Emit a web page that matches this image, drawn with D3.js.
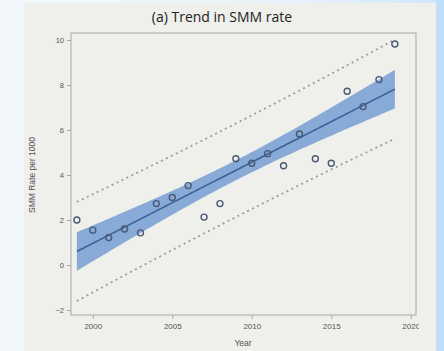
<!DOCTYPE html>
<html>
<head>
<meta charset="utf-8">
<script src="https://cdn.jsdelivr.net/npm/d3@7"></script>
<style>
  html, body { margin: 0; padding: 0; }
  body { width: 444px; height: 351px; overflow: hidden; }
  svg { display: block; }
</style>
</head>
<body>
<svg id="chart" width="444" height="351"></svg>
<script>
// Annual SMM rate per 1000, 1999-2019
const years = [1999, 2000, 2001, 2002, 2003, 2004, 2005, 2006, 2007, 2008, 2009,
               2010, 2011, 2012, 2013, 2014, 2015, 2016, 2017, 2018, 2019];
const rates = [2.0, 1.55, 1.22, 1.6, 1.43, 2.73, 3.0, 3.53, 2.13, 2.73, 4.72,
               4.52, 4.95, 4.41, 5.82, 4.72, 4.52, 7.72, 7.04, 8.24, 9.82];
const xTicks = [2000, 2005, 2010, 2015, 2020];
const yTicks = [-2, 0, 2, 4, 6, 8, 10];
const titleText = "(a) Trend in SMM rate";
const xTitle = "Year";
const yTitle = "SMM Rate per 1000";
const tCrit = 2.093; // t(0.975, n-2 = 19)

const svg = d3.select("#chart");

// slide backdrop
const defs = svg.append("defs");
const grad = defs.append("linearGradient").attr("id", "bg").attr("x1", 0).attr("x2", 1);
grad.append("stop").attr("offset", "0%").attr("stop-color", "#f4f8fc");
grad.append("stop").attr("offset", "70%").attr("stop-color", "#e6f1fb");
grad.append("stop").attr("offset", "100%").attr("stop-color", "#cfe6fa");
svg.append("rect").attr("width", 444).attr("height", 351).attr("fill", "url(#bg)");
svg.append("rect").attr("x", 436).attr("y", 0).attr("width", 8).attr("height", 351).attr("fill", "#bfdff9");

// chart panel
svg.append("rect").attr("x", 24).attr("y", 3).attr("width", 412).attr("height", 348).attr("fill", "#efefec");

const x = d3.scaleLinear().domain([1998.63, 2020.33]).range([71, 416]);
const y = d3.scaleLinear().domain([-2.22, 10.31]).range([315, 33]);

// least-squares fit with confidence and prediction limits
const n = years.length;
const mx = d3.mean(years), my = d3.mean(rates);
const sxx = d3.sum(years, v => (v - mx) ** 2);
const sxy = d3.sum(years, (v, i) => (v - mx) * (rates[i] - my));
const slope = sxy / sxx;
const icpt = my - slope * mx;
const fit = v => icpt + slope * v;
const sse = d3.sum(years, (v, i) => (rates[i] - fit(v)) ** 2);
const s = Math.sqrt(sse / (n - 2));
const grid = d3.range(0, 101).map(k => years[0] + (years[n - 1] - years[0]) * k / 100);
const bands = grid.map(v => {
  const h = 1 / n + (v - mx) ** 2 / sxx;
  return {
    v, f: fit(v),
    clo: fit(v) - tCrit * s * Math.sqrt(h), chi: fit(v) + tCrit * s * Math.sqrt(h),
    plo: fit(v) - tCrit * s * Math.sqrt(1 + h), phi: fit(v) + tCrit * s * Math.sqrt(1 + h)
  };
});

// confidence band
svg.append("path").datum(bands)
  .attr("d", d3.area().x(d => x(d.v)).y0(d => y(d.clo)).y1(d => y(d.chi)))
  .attr("fill", "#7ba2d4").attr("opacity", 0.9);

// prediction limits
["plo", "phi"].forEach(k => {
  svg.append("path").datum(bands)
    .attr("d", d3.line().x(d => x(d.v)).y(d => y(d[k])))
    .attr("fill", "none").attr("stroke", "#9c9c9c").attr("stroke-width", 1.8)
    .attr("stroke-dasharray", "2,3.5");
});

// fitted line
svg.append("path").datum(bands)
  .attr("d", d3.line().x(d => x(d.v)).y(d => y(d.f)))
  .attr("fill", "none").attr("stroke", "#3b6396").attr("stroke-width", 1.6);

// observations
svg.append("g").selectAll("circle").data(years).join("circle")
  .attr("cx", d => x(d)).attr("cy", (d, i) => y(rates[i])).attr("r", 3)
  .attr("fill", "none").attr("stroke", "#4b5875").attr("stroke-width", 1.4);

// frame
svg.append("rect").attr("x", 71).attr("y", 33).attr("width", 345).attr("height", 282)
  .attr("fill", "none").attr("stroke", "#a8a8a8").attr("stroke-width", 1);

const tickFont = "Liberation Sans, Arial, sans-serif";

// y axis
const yAxis = svg.append("g").attr("transform", "translate(71,0)")
  .call(d3.axisLeft(y).tickValues(yTicks).tickSize(4).tickPadding(3).tickFormat(d3.format("d")));
yAxis.select(".domain").remove();
yAxis.selectAll("line").attr("stroke", "#a8a8a8");
yAxis.selectAll("text").attr("fill", "#555").style("font-size", "7.5px").style("font-family", tickFont);

// x axis, tick labels cut at the panel's screenshot edge
defs.append("clipPath").attr("id", "xclip").append("rect")
  .attr("x", 0).attr("y", -10).attr("width", 419).attr("height", 40);
const xAxis = svg.append("g").attr("transform", "translate(0,315)")
  .attr("clip-path", "url(#xclip)")
  .call(d3.axisBottom(x).tickValues(xTicks).tickSize(4).tickPadding(4).tickFormat(d3.format("d")));
xAxis.select(".domain").remove();
xAxis.selectAll("line").attr("stroke", "#a8a8a8");
xAxis.selectAll("text").attr("fill", "#555").style("font-size", "8px").style("font-family", tickFont);

// titles
svg.append("text").attr("x", 222).attr("y", 22).attr("text-anchor", "middle")
  .style("font-family", "Open Sans, Lato, sans-serif").style("font-size", "14px").attr("fill", "#222")
  .text(titleText);
svg.append("text").attr("x", 243).attr("y", 346).attr("text-anchor", "middle")
  .style("font-family", tickFont).style("font-size", "8.5px").attr("fill", "#555")
  .text(xTitle);
svg.append("text").attr("transform", "translate(35,175) rotate(-90)").attr("text-anchor", "middle")
  .style("font-family", tickFont).style("font-size", "8.5px").attr("fill", "#555")
  .text(yTitle);
</script>
</body>
</html>
